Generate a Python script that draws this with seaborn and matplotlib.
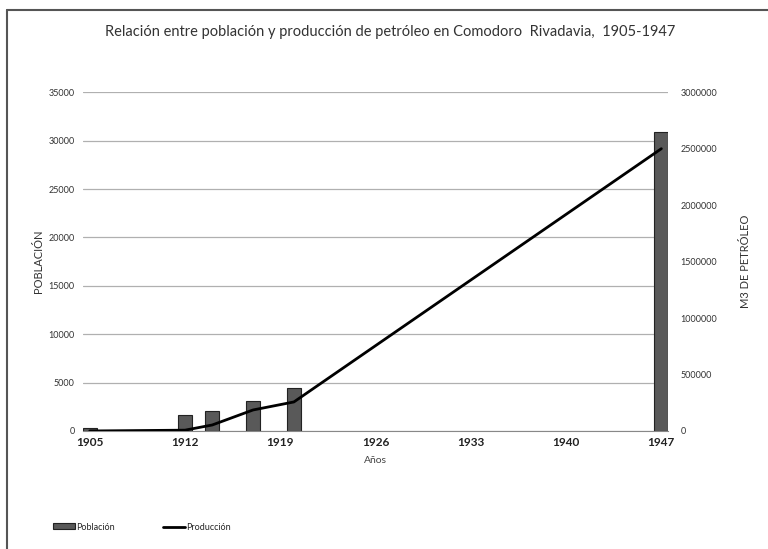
import matplotlib
matplotlib.use("Agg")
import matplotlib.pyplot as plt
import seaborn as sns
import pandas as pd
from matplotlib.lines import Line2D
from matplotlib.patches import Patch
from matplotlib.ticker import FuncFormatter

# data
pop_years = [1905, 1912, 1914, 1917, 1920, 1947]
poblacion = [300, 1650, 2070, 3100, 4450, 30900]

prod_years = [1905, 1912, 1914, 1917, 1920, 1947]
produccion = [0, 7000, 53000, 186000, 257000, 2500000]

xticks = [1905, 1912, 1919, 1926, 1933, 1940, 1947]

sns.set_style("white")
plt.rcParams["font.family"] = ["Lato", "DejaVu Sans"]

fig = plt.figure(figsize=(7.68, 5.49), dpi=100)
ax = fig.add_axes([0.108, 0.215, 0.762, 0.617])

df_pop = pd.DataFrame({"year": pop_years, "pob": poblacion})
# native_scale width is relative to the smallest gap between years (2)
sns.barplot(data=df_pop, x="year", y="pob", native_scale=True, width=0.52,
            color="#595959", edgecolor="#222222", linewidth=0.8,
            saturation=1, ax=ax)
ax.set_xlim(1904.5, 1947.5)
ax.set_ylim(0, 35000)
ax.set_yticks(range(0, 35001, 5000))
ax.set_xticks(xticks)
ax.set_xticklabels([str(t) for t in xticks], fontsize=8.5, color="#222222",
                   fontweight="bold")
ax.tick_params(axis="y", labelsize=6.5, colors="#333333", length=0, pad=6)
ax.tick_params(axis="x", length=0, pad=4)
ax.grid(axis="y", color="#b0b0b0", linewidth=0.9)
ax.set_axisbelow(True)
for s in ["top", "left", "right"]:
    ax.spines[s].set_visible(False)
ax.spines["bottom"].set_color("#888888")
ax.set_xlabel("Años", fontsize=7.5, color="#444444", labelpad=6)
ax.set_ylabel("POBLACIÓN", fontsize=8, color="#333333", labelpad=3)

ax2 = ax.twinx()
df_prod = pd.DataFrame({"year": prod_years, "prod": produccion})
sns.lineplot(data=df_prod, x="year", y="prod", color="black", linewidth=2,
             ax=ax2)
ax2.set_ylim(0, 3000000)
ax2.set_yticks(range(0, 3000001, 500000))
ax2.yaxis.set_major_formatter(FuncFormatter(lambda v, p: f"{int(v)}"))
ax2.tick_params(axis="y", labelsize=6.5, colors="#333333", length=0, pad=9)
ax2.set_ylabel("M3 DE PETRÓLEO", fontsize=8, color="#333333", labelpad=16)
ax2.set_xlabel("")
for s in ax2.spines.values():
    s.set_visible(False)

fig.suptitle("Relación entre población y producción de petróleo en Comodoro  Rivadavia,  1905-1947",
             x=0.508, y=0.955, fontsize=10.5, color="#333333")

handles = [Patch(facecolor="#595959", edgecolor="#222222", linewidth=0.8),
           Line2D([0], [0], color="black", linewidth=2)]
fig.legend(handles, ["Población", "Producción"], loc="center left",
           bbox_to_anchor=(0.058, 0.04), ncol=2, frameon=False, fontsize=6.5,
           handlelength=2.5, handletextpad=0.1, columnspacing=5.3,
           handleheight=0.6)

# frame around the chart (top and left edges only)
fig.add_artist(Line2D([0.009, 1.0], [0.982, 0.982], color="#555555", linewidth=1.5,
                      transform=fig.transFigure))
fig.add_artist(Line2D([0.009, 0.009], [0.0, 0.982], color="#555555", linewidth=1.5,
                      transform=fig.transFigure))

fig.savefig("out.png", dpi=100)
